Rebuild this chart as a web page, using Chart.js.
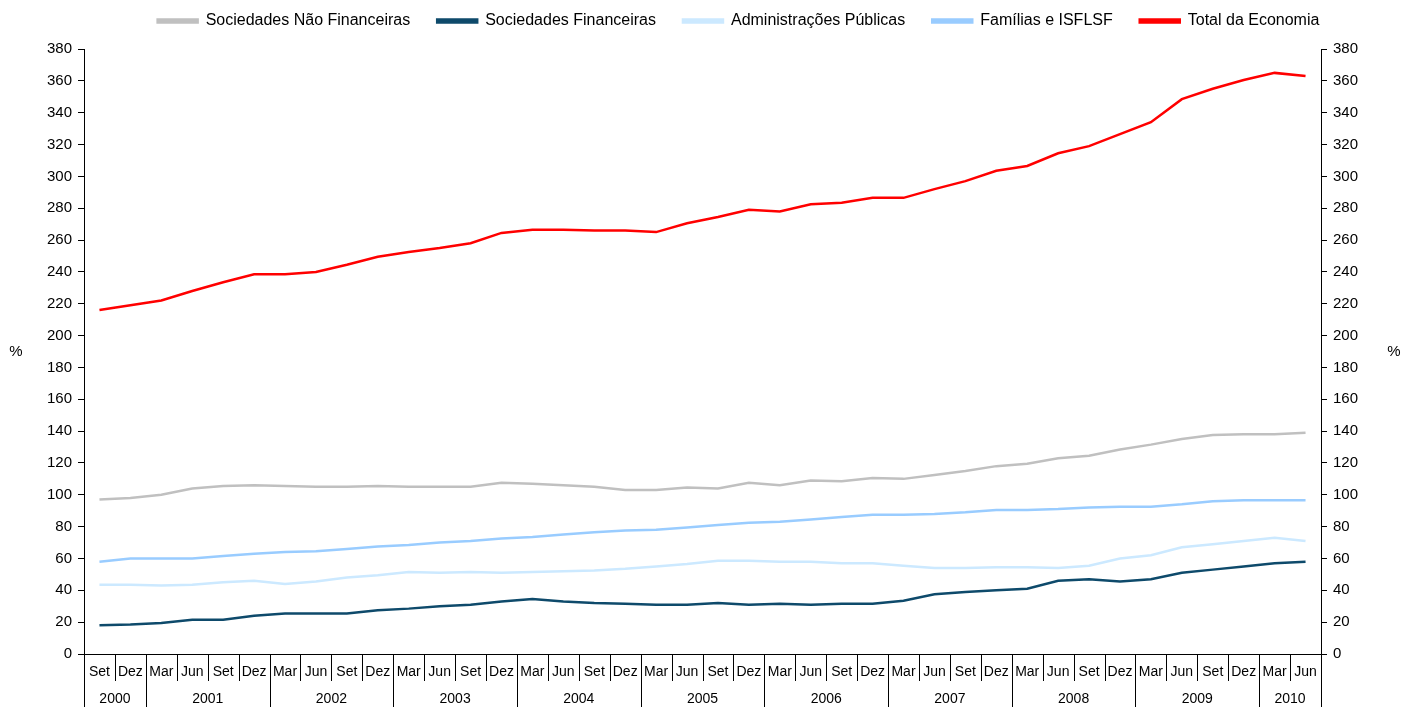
<!DOCTYPE html>
<html>
<head>
<meta charset="utf-8">
<script src="https://cdn.jsdelivr.net/npm/chart.js@4.4.1/dist/chart.umd.min.js"></script>
<style>
html,body{margin:0;padding:0;background:#fff;}
#wrap{width:1403px;height:707px;position:relative;}
</style>
</head>
<body>
<div id="wrap"><canvas id="c"></canvas></div>
<script>
const quarters = ["Set","Dez",
  "Mar","Jun","Set","Dez","Mar","Jun","Set","Dez","Mar","Jun","Set","Dez",
  "Mar","Jun","Set","Dez","Mar","Jun","Set","Dez","Mar","Jun","Set","Dez",
  "Mar","Jun","Set","Dez","Mar","Jun","Set","Dez","Mar","Jun","Set","Dez",
  "Mar","Jun"];
const years = ["2000","2000",
  "2001","2001","2001","2001","2002","2002","2002","2002","2003","2003","2003","2003",
  "2004","2004","2004","2004","2005","2005","2005","2005","2006","2006","2006","2006",
  "2007","2007","2007","2007","2008","2008","2008","2008","2009","2009","2009","2009",
  "2010","2010"];

const seriesNames = ["Sociedades Não Financeiras","Sociedades Financeiras","Administrações Públicas","Famílias e ISFLSF","Total da Economia"];

const naoFinanceiras = [97,98,100,104,105.5,106,105.5,105,105,105.5,105,105,105,107.5,107,106,105,103,103,104.5,104,107.5,106,109,108.5,110.5,110,112.5,115,118,119.5,123,124.5,128.5,131.5,135,137.5,138,138,139];
const financeiras = [18,18.5,19.5,21.5,21.5,24,25.5,25.5,25.5,27.5,28.5,30,31,33,34.5,33,32,31.5,31,31,32,31,31.5,31,31.5,31.5,33.5,37.5,39,40,41,46,47,45.5,47,51,53,55,57,58];
const administracoes = [43.5,43.5,43,43.5,45,46,44,45.5,48,49.5,51.5,51,51.5,51,51.5,52,52.5,53.5,55,56.5,58.5,58.5,58,58,57,57,55.5,54,54,54.5,54.5,54,55.5,60,62,67,69,71,73,71];
const familias = [58,60,60,60,61.5,63,64,64.5,66,67.5,68.5,70,71,72.5,73.5,75,76.5,77.5,78,79.5,81,82.5,83,84.5,86,87.5,87.5,88,89,90.5,90.5,91,92,92.5,92.5,94,96,96.5,96.5,96.5];
const total = [216,219,222,228,233.5,238.5,238.5,240,244.5,249.5,252.5,255,258,264.5,266.5,266.5,266,266,265,270.5,274.5,279,278,282.5,283.5,286.5,286.5,292,297,303.5,306.5,314.5,319,326.5,334,348.5,355,360.5,365,363];

const yMin = 0, yMax = 380, yStep = 20;
const axisTitle = "%";

const colors = ["#C0C0C0","#0E4A6B","#CCE9FF","#99CCFF","#FF0000"];
const values = [naoFinanceiras, financeiras, administracoes, familias, total];

const FONT = "'Liberation Sans', Arial, sans-serif";

const axisPlugin = {
  id: 'catAxis',
  afterDraw(chart) {
    const ctx = chart.ctx;
    const x = chart.scales.x;
    const area = chart.chartArea;
    const n = quarters.length;
    const half = (x.getPixelForValue(1) - x.getPixelForValue(0)) / 2;
    const base = area.bottom;
    ctx.save();
    ctx.strokeStyle = '#000';
    ctx.lineWidth = 1;
    ctx.fillStyle = '#000';
    ctx.font = "14px " + FONT;
    ctx.textAlign = 'center';
    ctx.textBaseline = 'middle';
    for (let i = 0; i < n; i++) {
      const cx = x.getPixelForValue(i);
      ctx.fillText(quarters[i], cx, base + 18);
      const left = Math.round(cx - half) + 0.5;
      const newYear = (i === 0) || years[i] !== years[i - 1];
      ctx.beginPath();
      ctx.moveTo(left, base);
      ctx.lineTo(left, newYear ? chart.height : base + 27);
      ctx.stroke();
    }
    const rightEdge = Math.round(x.getPixelForValue(n - 1) + half) + 0.5;
    ctx.beginPath();
    ctx.moveTo(rightEdge, base);
    ctx.lineTo(rightEdge, chart.height);
    ctx.stroke();
    let start = 0;
    for (let i = 1; i <= n; i++) {
      if (i === n || years[i] !== years[start]) {
        const a = x.getPixelForValue(start) - half;
        const b = x.getPixelForValue(i - 1) + half;
        ctx.fillText(years[start], (a + b) / 2, base + 45);
        start = i;
      }
    }
    ctx.font = "15px " + FONT;
    const midY = (area.top + area.bottom) / 2;
    ctx.fillText(axisTitle, 16, midY);
    ctx.fillText(axisTitle, chart.width - 9, midY);
    ctx.restore();
  }
};

new Chart(document.getElementById('c'), {
  type: 'line',
  data: {
    labels: quarters,
    datasets: seriesNames.map((name, k) => ({
      label: name,
      data: values[k],
      borderColor: colors[k],
      backgroundColor: colors[k],
      borderWidth: 2.5,
      pointRadius: 0,
      pointHoverRadius: 0,
      tension: 0,
      fill: false,
      yAxisID: 'y'
    }))
  },
  options: {
    responsive: true,
    maintainAspectRatio: false,
    animation: false,
    events: [],
    layout: { padding: { top: -14, left: 0, right: -74, bottom: 0 } },
    plugins: {
      legend: {
        position: 'top',
        labels: {
          boxWidth: 40,
          boxHeight: 3,
          padding: 27,
          color: '#000',
          font: { family: FONT, size: 16 }
        }
      },
      title: {
        display: true,
        text: '',
        position: 'top',
        weight: 0,
        padding: 0,
        font: { size: 10, lineHeight: 1 }
      },
      tooltip: { enabled: false }
    },
    scales: {
      x: {
        type: 'category',
        offset: true,
        grid: { display: false },
        border: { display: true, color: '#000', width: 1 },
        ticks: { display: false },
        afterFit(s) { s.height = 53; }
      },
      y: {
        position: 'left',
        min: yMin, max: yMax,
        ticks: { stepSize: yStep, color: '#000', padding: 6, font: { family: FONT, size: 15 } },
        grid: { drawOnChartArea: false, drawTicks: true, tickLength: 6, color: '#000' },
        border: { display: true, color: '#000', width: 1 },
        afterFit(s) { s.width = 84; }
      },
      y2: {
        position: 'right',
        min: yMin, max: yMax,
        ticks: { stepSize: yStep, color: '#000', padding: 6, font: { family: FONT, size: 15 } },
        grid: { drawOnChartArea: false, drawTicks: true, tickLength: 6, color: '#000' },
        border: { display: true, color: '#000', width: 1 },
        afterFit(s) { s.width = 156; }
      }
    }
  },
  plugins: [axisPlugin]
});
</script>
</body>
</html>
